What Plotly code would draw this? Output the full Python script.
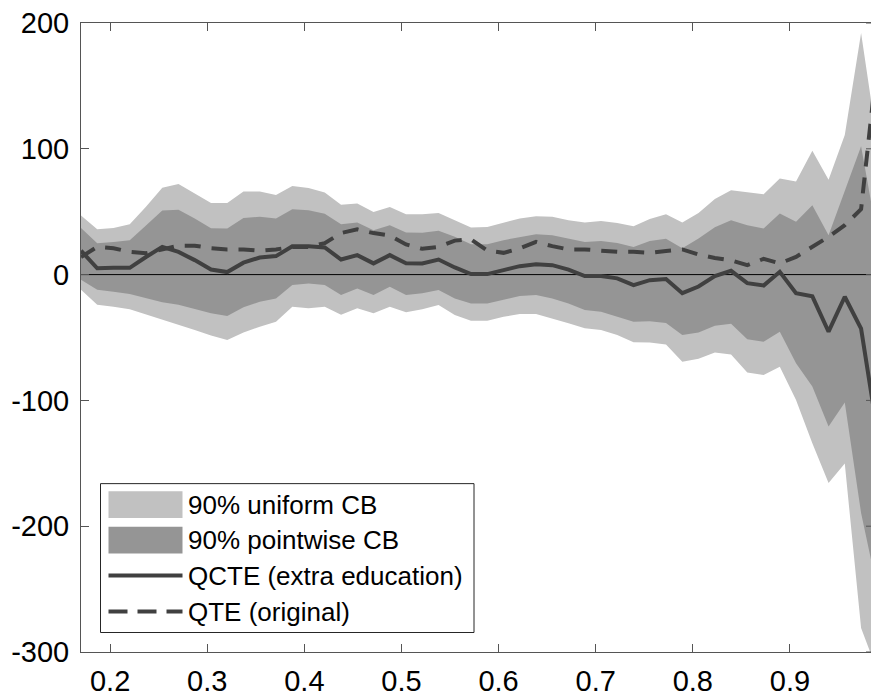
import plotly.graph_objects as go

# ---------------- data ----------------
quantiles = [0.1700, 0.1867, 0.2035, 0.2202, 0.2369, 0.2537, 0.2704, 0.2871, 0.3039, 0.3206,
             0.3373, 0.3541, 0.3708, 0.3876, 0.4043, 0.4210, 0.4378, 0.4545, 0.4712, 0.4880,
             0.5047, 0.5214, 0.5382, 0.5549, 0.5716, 0.5884, 0.6051, 0.6218, 0.6386, 0.6553,
             0.6720, 0.6888, 0.7055, 0.7222, 0.7390, 0.7557, 0.7724, 0.7892, 0.8059, 0.8227,
             0.8394, 0.8561, 0.8729, 0.8896, 0.9063, 0.9231, 0.9398, 0.9565, 0.9733, 0.9900]

uniform_upper = [47, 36, 37, 40, 54, 69, 72, 64.5, 57, 57,
                 66, 66, 63.3, 70.5, 68.8, 65.3, 55.5, 56.5, 49.8, 53.8,
                 48, 48, 49, 43.3, 37.4, 37.9, 41.1, 44.6, 46.4, 45.9,
                 43.3, 41.4, 42.7, 41.1, 38.5, 44.2, 48, 41.5, 49, 60,
                 67.1, 65.7, 63.8, 76.3, 74, 98.5, 75.3, 111, 192, 105]
uniform_lower = [-12, -24, -25.5, -27.6, -32, -36, -40, -44, -48.5, -52,
                 -46, -41.4, -37.4, -25.5, -26.8, -25.5, -32, -26.8, -30.8, -25.5,
                 -30, -27.6, -24.2, -32.1, -36.7, -36.7, -33.5, -31.3, -31.3, -34.8,
                 -38.7, -42.7, -44, -48, -53.8, -54, -55.5, -69.2, -66.9, -62,
                 -63.5, -77.9, -79.8, -73.2, -99.6, -134, -165.6, -150.2, -281, -315]
pointwise_upper = [37, 25, 26, 27.4, 39, 51, 51.5, 44.6, 36.8, 36.6,
                   45, 46, 44.6, 52, 51.2, 48.3, 40, 41.5, 35.3, 39.3,
                   33.5, 33.2, 34.8, 30, 24.2, 24.2, 27.4, 30, 32.1, 31.3,
                   28.7, 26, 26.8, 25.2, 22, 26.7, 28.5, 21, 28.7, 37.7,
                   43.3, 39.3, 36.7, 48.6, 42, 55.2, 31.3, 67, 102, 30]
pointwise_lower = [-4, -12, -13.6, -15.5, -19, -22, -24, -27.4, -30.8, -32.9,
                   -26, -21.6, -18.9, -8.3, -7, -8.3, -16.3, -11, -16.3, -9.7,
                   -16.3, -14.9, -12.3, -18.9, -22.9, -22.9, -20.2, -17.1, -16.3, -18.9,
                   -22.9, -28.2, -29.5, -33.5, -37.4, -37, -38.5, -48, -46, -40.7,
                   -39, -51.4, -53.3, -45.4, -70.5, -89, -120.8, -101.7, -189.5, -250]
qcte = [19, 5, 5.4, 5.4, 14, 22, 18, 11.5, 4, 2,
        9.5, 13.6, 14.7, 22.6, 22.6, 21.6, 12, 15.5, 8.9, 15.5,
        9, 8.9, 12, 5.7, 0.4, 0.4, 3.6, 6.7, 8.3, 7.5,
        4, -1.2, -1.2, -3, -8.3, -4.4, -3.5, -14.8, -9.5, -1.2,
        3, -6.8, -8.7, 2.2, -14.7, -17.3, -45.4, -17.6, -43, -125]
qte = [14, 22, 21, 18, 17, 20, 23, 23, 21, 20,
       20, 19, 20, 22, 22, 25, 33, 36, 33, 31,
       24, 20.5, 22, 27, 28, 19, 17.3, 20.8, 26, 22.6,
       20, 20, 18.7, 18.1, 18.1, 17.3, 18.8, 20, 16, 13.2,
       11.3, 7.5, 12.5, 8.9, 14.1, 22, 30, 39.3, 52, 170]

x_ticks = [0.2, 0.3, 0.4, 0.5, 0.6, 0.7, 0.8, 0.9]
x_tick_text = ["0.2", "0.3", "0.4", "0.5", "0.6", "0.7", "0.8", "0.9"]
y_ticks = [-300, -200, -100, 0, 100, 200]
y_tick_text = ["-300", "-200", "-100", "0", "100", "200"]

legend_labels = ["90% uniform CB", "90% pointwise CB", "QCTE (extra education)", "QTE (original)"]

# ---------------- style ----------------
LIGHT = "#c1c1c1"
DARK = "#959595"
LINE = "#404040"
AXIS = "#555555"
FONT = "Liberation Sans, Arial, Helvetica, sans-serif"
TICK_FS = 29
LEG_FS = 26

W, H = 871, 698
PL, PR, PT, PB = 81, 871, 22.5, 652   # plot area in pixels

def px_x(p):
    return (p - PL) / (PR - PL)

def px_y(p):
    return (PB - p) / (PB - PT)

fig = go.Figure()

band_x = quantiles + quantiles[::-1]
fig.add_trace(go.Scatter(x=band_x, y=uniform_upper + uniform_lower[::-1], fill="toself",
                         fillcolor=LIGHT, line=dict(width=0), mode="lines",
                         hoverinfo="skip", showlegend=False))
fig.add_trace(go.Scatter(x=band_x, y=pointwise_upper + pointwise_lower[::-1], fill="toself",
                         fillcolor=DARK, line=dict(width=0), mode="lines",
                         hoverinfo="skip", showlegend=False))
fig.add_trace(go.Scatter(x=[quantiles[0], quantiles[-1]], y=[0, 0], mode="lines",
                         line=dict(color="black", width=1), showlegend=False, hoverinfo="skip"))
fig.add_trace(go.Scatter(x=quantiles, y=qcte, mode="lines",
                         line=dict(color=LINE, width=4), showlegend=False))
fig.add_trace(go.Scatter(x=quantiles, y=qte, mode="lines",
                         line=dict(color=LINE, width=4, dash="16px,11px"), showlegend=False))

shapes = []
# right-side tick marks (right axis is just beyond the visible window)
for v in y_ticks:
    shapes.append(dict(type="line", xref="paper", yref="y", x0=px_x(866), x1=1.0, y0=v, y1=v,
                       line=dict(color=AXIS, width=1)))

# manual legend
LX0, LY0, LX1, LY1 = 100.5, 483.5, 474, 632.5
shapes.append(dict(type="rect", xref="paper", yref="paper",
                   x0=px_x(LX0), x1=px_x(LX1), y0=px_y(LY1), y1=px_y(LY0),
                   fillcolor="white", line=dict(color="#262626", width=1)))
row_y = [504.5, 540, 575.5, 611.5]
sx0, sx1 = 108.5, 182.5
for yy, col in zip(row_y[:2], [LIGHT, DARK]):
    shapes.append(dict(type="rect", xref="paper", yref="paper",
                       x0=px_x(sx0), x1=px_x(sx1), y0=px_y(yy + 13.3), y1=px_y(yy - 13.3),
                       fillcolor=col, line=dict(width=0)))
shapes.append(dict(type="line", xref="paper", yref="paper",
                   x0=px_x(sx0), x1=px_x(sx1), y0=px_y(row_y[2]), y1=px_y(row_y[2]),
                   line=dict(color=LINE, width=4)))
shapes.append(dict(type="line", xref="paper", yref="paper",
                   x0=px_x(sx0), x1=px_x(sx1), y0=px_y(row_y[3]), y1=px_y(row_y[3]),
                   line=dict(color=LINE, width=4, dash="19px,10px")))

annotations = []
for yy, txt in zip(row_y, legend_labels):
    annotations.append(dict(xref="paper", yref="paper", x=px_x(186), y=px_y(yy),
                            text=txt, showarrow=False, xanchor="left", yanchor="middle",
                            font=dict(family=FONT, size=LEG_FS, color="black")))

fig.update_layout(
    width=W, height=H,
    margin=dict(l=PL, r=W - PR, t=PT, b=H - PB),
    plot_bgcolor="white", paper_bgcolor="white",
    font=dict(family=FONT, size=TICK_FS, color="black"),
    shapes=shapes, annotations=annotations,
    showlegend=False,
)
fig.update_xaxes(range=[0.17, 0.9835], tickvals=x_ticks, ticktext=x_tick_text,
                 ticks="inside", ticklen=8, tickcolor=AXIS, tickwidth=1,
                 showline=True, linecolor=AXIS, linewidth=1, mirror="ticks",
                 showgrid=False, zeroline=False, ticklabelstandoff=3)
fig.update_yaxes(range=[-300, 200], tickvals=y_ticks, ticktext=y_tick_text,
                 ticks="inside", ticklen=8, tickcolor=AXIS, tickwidth=1,
                 showline=True, linecolor=AXIS, linewidth=1, mirror=False,
                 showgrid=False, zeroline=False, ticklabelstandoff=5)

fig.write_html("out.html")
